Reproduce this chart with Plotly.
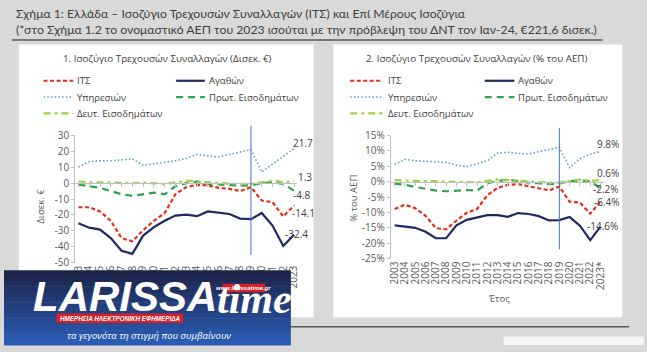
import plotly.graph_objects as go

# ---------------- data ----------------
years = list(range(2003, 2024))
xlabels_left = [str(y) for y in years]
xlabels_right = [str(y) for y in years[:-1]] + ["2023*"]

series_names = ["ΙΤΣ", "Αγαθών", "Υπηρεσιών", "Πρωτ. Εισοδημάτων", "Δευτ. Εισοδημάτων"]

# Chart 1: billion euro
its_bn = [-15.2, -15.2, -17.8, -23.7, -34.6, -36.6, -29.6, -23.7, -18.8, -6.9, -2.5,
          -1.2, -1.4, -3.0, -3.6, -5.0, -2.6, -11.0, -12.0, -21.0, -14.1]
goods_bn = [-25.3, -28.0, -29.2, -34.6, -42.5, -44.5, -33.0, -27.7, -23.7, -20.4, -19.8,
            -20.8, -17.8, -18.4, -19.4, -22.3, -22.7, -18.8, -26.7, -39.5, -32.4]
services_bn = [10.0, 13.5, 14.0, 14.0, 14.6, 15.2, 11.2, 12.0, 13.0, 14.0, 15.5,
               18.0, 17.0, 16.4, 18.0, 19.4, 21.0, 7.0, 12.0, 17.0, 21.7]
primary_bn = [-1.0, -2.0, -3.0, -5.0, -7.0, -8.0, -7.0, -6.0, -7.0, -2.0, 0.0,
              1.0, -0.5, -1.0, -1.4, -1.6, -1.4, 0.0, 0.5, -0.5, -4.8]
secondary_bn = [1.0, 0.5, 0.5, 0.3, 0.2, 0.0, 0.3, 0.0, -0.5, 0.5, 1.5,
                1.0, 0.5, 0.0, -0.3, -0.5, -0.5, 0.5, 1.5, 0.5, 1.3]

# Chart 2: % of GDP
its_pct = [-8.9, -7.5, -8.6, -11.1, -15.1, -15.5, -12.7, -10.1, -8.9, -4.4, -2.0,
           -1.0, -0.8, -1.5, -2.0, -2.8, -1.6, -6.5, -6.8, -10.4, -6.4]
goods_pct = [-14.2, -14.6, -15.0, -16.3, -18.4, -18.4, -14.2, -12.4, -11.6, -10.9, -10.9,
             -11.4, -10.2, -10.5, -11.2, -12.6, -12.5, -11.5, -14.3, -19.0, -14.6]
services_pct = [5.6, 7.3, 6.8, 6.6, 6.6, 6.3, 5.4, 4.9, 5.9, 6.8, 9.3,
                9.6, 9.2, 9.0, 9.8, 10.6, 11.2, 4.6, 7.5, 9.0, 9.8]
primary_pct = [-0.6, -1.0, -1.7, -2.4, -2.9, -3.1, -2.9, -2.7, -2.9, -0.5, 0.2,
               0.7, 0.2, -0.3, -0.5, -0.8, -0.6, 0.2, 0.4, 0.2, -2.2]
secondary_pct = [0.5, 0.3, 0.3, 0.2, 0.1, 0.0, 0.1, 0.0, -0.2, 0.3, 0.7,
                 0.5, 0.3, 0.0, -0.2, -0.3, -0.3, 0.3, 0.7, 0.2, 0.6]

yticks_left = [30, 20, 10, 0, -10, -20, -30, -40, -50]
yticks_right = [15, 10, 5, 0, -5, -10, -15, -20, -25]

break_year = 2019
vline_left = (-45, 36)
vline_right = (-22, 17.5)

title_line1 = "Σχήμα 1: Ελλάδα – Ισοζύγιο Τρεχουσών Συναλλαγών (ΙΤΣ) και Επί Μέρους Ισοζύγια"
title_line2 = "(*στο Σχήμα 1.2 το ονομαστικό ΑΕΠ του 2023 ισούται με την πρόβλεψη του ΔΝΤ τον Ιαν-24, €221,6 δισεκ.)"
sub_left = "1. Ισοζύγιο Τρεχουσών Συναλλαγών (Δισεκ. €)"
sub_right = "2. Ισοζύγιο Τρεχουσών Συναλλαγών (% του ΑΕΠ)"

# ---------------- styling ----------------
W, H = 647, 352
def px(x):
    return x / W
def py(y):
    return 1 - y / H

FONT = "Open Sans"
TXT = "#404040"
TICK = "#595959"
AXC = "#bfbfbf"
BG = "#d9d9d9"

styles = [
    dict(color="#e2311d", width=2.2, dash="4px,2.5px"),
    dict(color="#1f2a5e", width=2.2, dash="solid"),
    dict(color="#5b9bd5", width=1.6, dash="1.5px,2.2px"),
    dict(color="#2da44e", width=2.2, dash="7px,5px"),
    dict(color="#9fd04a", width=2.2, dash="7px,4px,3px,4px"),
]

panels = [
    dict(xa="x", ya="y", xa0="x3", series=[its_bn, goods_bn, services_bn, primary_bn, secondary_bn],
         ylo=-50, yhi=30, xr=[2002.7, 2023.3], xdom=[px(72), px(296.5)], ydom=[py(266), py(133)],
         yticks=yticks_left, suffix="", xlabels=xlabels_left, vline=vline_left,
         lab_dx=[9, 2, 9, 8, 11], lab_dy=[-7.5, 1, 5.5, -4.3, 4.5],
         leg=[(40, 70, 72), (174, 203, 205)], sub=sub_left, subx=165),
    dict(xa="x2", ya="y2", xa0="x4", series=[its_pct, goods_pct, services_pct, primary_pct, secondary_pct],
         ylo=-25, yhi=15, xr=[2002.62, 2023.38], xdom=[px(391), px(607)], ydom=[py(261.7), py(133.3)],
         yticks=yticks_right, suffix="%", xlabels=xlabels_right, vline=vline_right,
         lab_dx=[6, 2, 7, 5, 7], lab_dy=[-1, 1, 7.5, -1, 7],
         leg=[(350, 383, 386), (486, 516, 518)], sub=sub_right, subx=478),
]

fig = go.Figure()
annotations = []
shapes = []

# background panels
shapes.append(dict(type="rect", xref="paper", yref="paper", x0=px(15), x1=px(313), y0=py(323), y1=py(38),
                   fillcolor="white", line=dict(width=0), layer="below"))
shapes.append(dict(type="rect", xref="paper", yref="paper", x0=px(333), x1=px(625), y0=py(323), y1=py(38),
                   fillcolor="white", line=dict(width=0), layer="below"))
shapes.append(dict(type="line", xref="paper", yref="paper", x0=px(8), x1=px(605), y0=py(33.5), y1=py(33.5),
                   line=dict(color="#595959", width=1.5), layer="below"))
shapes.append(dict(type="line", xref="paper", yref="paper", x0=px(0), x1=px(632), y0=py(333), y1=py(333),
                   line=dict(color="#595959", width=1.5), layer="below"))
shapes.append(dict(type="rect", xref="paper", yref="paper", x0=px(505), x1=px(647), y0=py(352), y1=py(343),
                   fillcolor="#f6f6f6", line=dict(width=0), layer="below"))

annotations.append(dict(text=title_line1 + "<br>" + title_line2, xref="paper", yref="paper", x=px(10), y=py(14),
                        xanchor="left", yanchor="middle", align="left", showarrow=False,
                        font=dict(family="Lato", size=12.2, color=TXT)))

layout_axes = {}
for k, p in enumerate(panels):
    for s, (vals, name) in enumerate(zip(p["series"], series_names)):
        fig.add_trace(go.Scatter(x=years, y=vals, name=name, mode="lines", line=styles[s],
                                 xaxis=p["xa"], yaxis=p["ya"], showlegend=False, hoverinfo="skip"))
    # invisible helper so the zero-crossing category axis is drawn
    fig.add_trace(go.Scatter(x=years, y=[None] * len(years), mode="lines", xaxis=p["xa0"], yaxis=p["ya"],
                             showlegend=False, hoverinfo="skip"))
    xkey = "xaxis" + ("" if p["xa"] == "x" else p["xa"][1:])
    ykey = "yaxis" + ("" if p["ya"] == "y" else p["ya"][1:])
    x0key = "xaxis" + p["xa0"][1:]
    span = p["yhi"] - p["ylo"]
    zero_pos = p["ydom"][0] + (0 - p["ylo"]) / span * (p["ydom"][1] - p["ydom"][0])
    layout_axes[xkey] = dict(domain=p["xdom"], range=p["xr"], anchor=p["ya"], tickmode="array",
                             tickvals=years, ticktext=p["xlabels"], tickangle=-90, showline=False,
                             showgrid=False, zeroline=False, ticks="",
                             tickfont=dict(family=FONT, size=10, color=TICK))
    layout_axes[x0key] = dict(domain=p["xdom"], range=p["xr"], overlaying=p["xa"], anchor="free",
                              position=zero_pos, tickmode="array", tickvals=years, showticklabels=False,
                              ticks="outside", ticklen=3, tickcolor=AXC, showline=True, linecolor=AXC,
                              linewidth=1, showgrid=False, zeroline=False)
    layout_axes[ykey] = dict(domain=p["ydom"], range=[p["ylo"], p["yhi"]], anchor=p["xa"], tickmode="array",
                             tickvals=p["yticks"], ticktext=[f"{v}{p['suffix']}" for v in p["yticks"]],
                             showline=True, linecolor=AXC, linewidth=1, ticks="outside", ticklen=3,
                             tickcolor=AXC, showgrid=False, zeroline=False,
                             tickfont=dict(family=FONT, size=10, color=TICK))
    # end-of-series labels
    for s, vals in enumerate(p["series"]):
        annotations.append(dict(text=f"{vals[-1]:.1f}{p['suffix']}", xref=p["xa"], yref=p["ya"],
                                x=years[-1], y=vals[-1], xanchor="center", yanchor="middle",
                                xshift=p["lab_dx"][s], yshift=p["lab_dy"][s], showarrow=False,
                                font=dict(family=FONT, size=10, color=TXT)))
    # break line
    lo, hi = p["vline"]
    shapes.append(dict(type="line", xref=p["xa"], yref=p["ya"] + " domain", x0=break_year, x1=break_year,
                       y0=(lo - p["ylo"]) / span, y1=(hi - p["ylo"]) / span,
                       line=dict(color="#4472c4", width=1)))
    # subtitle
    annotations.append(dict(text=p["sub"], xref="paper", yref="paper", x=px(p["subx"]), y=py(53),
                            xanchor="center", yanchor="middle", showarrow=False,
                            font=dict(family=FONT, size=9.8, color=TXT)))
    # manual legend
    rows = [76, 93, 110]
    for s, name in enumerate(series_names):
        r, c = divmod(s, 2)
        x0, x1, xt = p["leg"][c]
        yy = rows[r]
        shapes.append(dict(type="line", xref="paper", yref="paper", x0=px(x0), x1=px(x1),
                           y0=py(yy), y1=py(yy), line=styles[s]))
        annotations.append(dict(text=name, xref="paper", yref="paper", x=px(xt), y=py(yy),
                                xanchor="left", yanchor="middle", showarrow=False,
                                font=dict(family=FONT, size=9.5, color=TXT)))

# axis titles
annotations.append(dict(text="Δισεκ. €", xref="paper", yref="paper", x=px(37), y=py(207), textangle=-90,
                        xanchor="center", yanchor="middle", showarrow=False,
                        font=dict(family=FONT, size=9.5, color=TICK)))
annotations.append(dict(text="% του ΑΕΠ", xref="paper", yref="paper", x=px(353), y=py(199), textangle=-90,
                        xanchor="center", yanchor="middle", showarrow=False,
                        font=dict(family=FONT, size=9.5, color=TICK)))
annotations.append(dict(text="Έτος", xref="paper", yref="paper", x=px(500), y=py(303),
                        xanchor="center", yanchor="middle", showarrow=False,
                        font=dict(family=FONT, size=9.5, color=TICK)))

# ---------------- logo overlay ----------------
def lerp(c1, c2, t):
    return "#" + "".join(f"{round(a + (b - a) * t):02x}" for a, b in zip(c1, c2))

top_c, bot_c = (28, 36, 74), (43, 92, 180)
y_top, y_bot = 274, 352
nb = 14
for i in range(nb):
    ya = y_top + (y_bot - y_top) * i / nb
    yb = y_top + (y_bot - y_top) * (i + 1) / nb
    shapes.append(dict(type="rect", xref="paper", yref="paper", x0=px(0), x1=px(290), y0=py(yb + 0.5), y1=py(ya),
                       fillcolor=lerp(top_c, bot_c, i / (nb - 1)), line=dict(width=0), layer="above"))
shapes.append(dict(type="rect", xref="paper", yref="paper", x0=px(221), x1=px(264), y0=py(297), y1=py(288),
                   fillcolor="#d42027", line=dict(width=0), layer="above"))
shapes.append(dict(type="rect", xref="paper", yref="paper", x0=px(53), x1=px(181), y0=py(329), y1=py(319),
                   fillcolor="#d42027", line=dict(width=0), layer="above"))
annotations.append(dict(text="<b><i>LARISSA</i></b>", xref="paper", yref="paper", x=px(122), y=py(301),
                        xanchor="center", yanchor="middle", showarrow=False,
                        font=dict(family="Liberation Sans", size=42, color="white")))
annotations.append(dict(text="<b><i>time</i></b>", xref="paper", yref="paper", x=px(253), y=py(304),
                        xanchor="center", yanchor="middle", showarrow=False,
                        font=dict(family="Liberation Serif", size=42, color="white")))
annotations.append(dict(text="<b><i>www.larissatime.gr</i></b>", xref="paper", yref="paper", x=px(242.5), y=py(292.5),
                        xanchor="center", yanchor="middle", showarrow=False,
                        font=dict(family="Liberation Sans", size=6, color="white")))
annotations.append(dict(text="<b><i>ΗΜΕΡΗΣΙΑ ΗΛΕΚΤΡΟΝΙΚΗ ΕΦΗΜΕΡΙΔΑ</i></b>", xref="paper", yref="paper",
                        x=px(117), y=py(324), xanchor="center", yanchor="middle", showarrow=False,
                        font=dict(family="Liberation Sans", size=6.3, color="white")))
annotations.append(dict(text="<i>τα γεγονότα τη στιγμή που συμβαίνουν</i>", xref="paper", yref="paper",
                        x=px(147), y=py(342), xanchor="center", yanchor="middle", showarrow=False,
                        font=dict(family=FONT, size=9.5, color="white")))

fig.update_layout(
    width=W, height=H, margin=dict(l=0, r=0, t=0, b=0),
    paper_bgcolor=BG, plot_bgcolor="rgba(0,0,0,0)",
    showlegend=False, shapes=shapes, annotations=annotations,
    font=dict(family=FONT, color=TXT),
    **layout_axes,
)

fig.write_html("out.html")
